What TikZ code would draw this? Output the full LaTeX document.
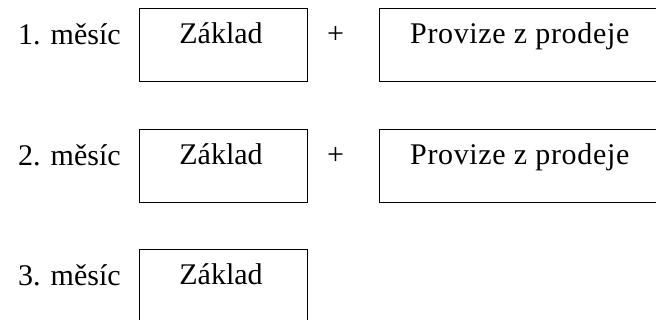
\documentclass[tikz,border=0pt]{standalone}
\usepackage{fontspec}
\setmainfont{Liberation Serif}
\newfontfamily\spacedserif[LetterSpace=2.2]{Liberation Serif}
\begin{document}
\begin{tikzpicture}[x=1pt,y=-1pt,
  box/.style={draw,line width=1.2pt,minimum width=168pt,minimum height=73pt,inner sep=0pt,anchor=north west},
  widebox/.style={box,minimum width=300pt},
  txt/.style={font=\fontsize{30}{36}\selectfont,inner sep=0pt,anchor=base west},
  ctxt/.style={txt,anchor=base},
  stxt/.style={txt,font=\fontsize{30}{36}\spacedserif}]
\clip (0,0) rectangle (656,320);
\fill[white] (0,0) rectangle (656,320);
% month 1: base salary plus sales commission
\node[txt] (m1) at (18,45) {1. měsíc};
\node[box] (z1) at (139,8) {};
\node[ctxt] (z1t) at (221,44) {Základ};
\node[ctxt] (p1) at (335.5,44) {+};
\node[widebox] (v1) at (379,8) {};
\node[stxt] (v1t) at (410,44) {Provize z prodeje};
% month 2: same composition
\node[txt] (m2) at (18,166) {2. měsíc};
\node[box] (z2) at (139,129) {};
\node[ctxt] (z2t) at (221,165) {Základ};
\node[ctxt] (p2) at (335.5,165) {+};
\node[widebox] (v2) at (379,129) {};
\node[stxt] (v2t) at (410,165) {Provize z prodeje};
% month 3: base salary only
\node[txt] (m3) at (18,286) {3. měsíc};
\node[box] (z3) at (139,249) {};
\node[ctxt] (z3t) at (221,285) {Základ};
\end{tikzpicture}
\end{document}
